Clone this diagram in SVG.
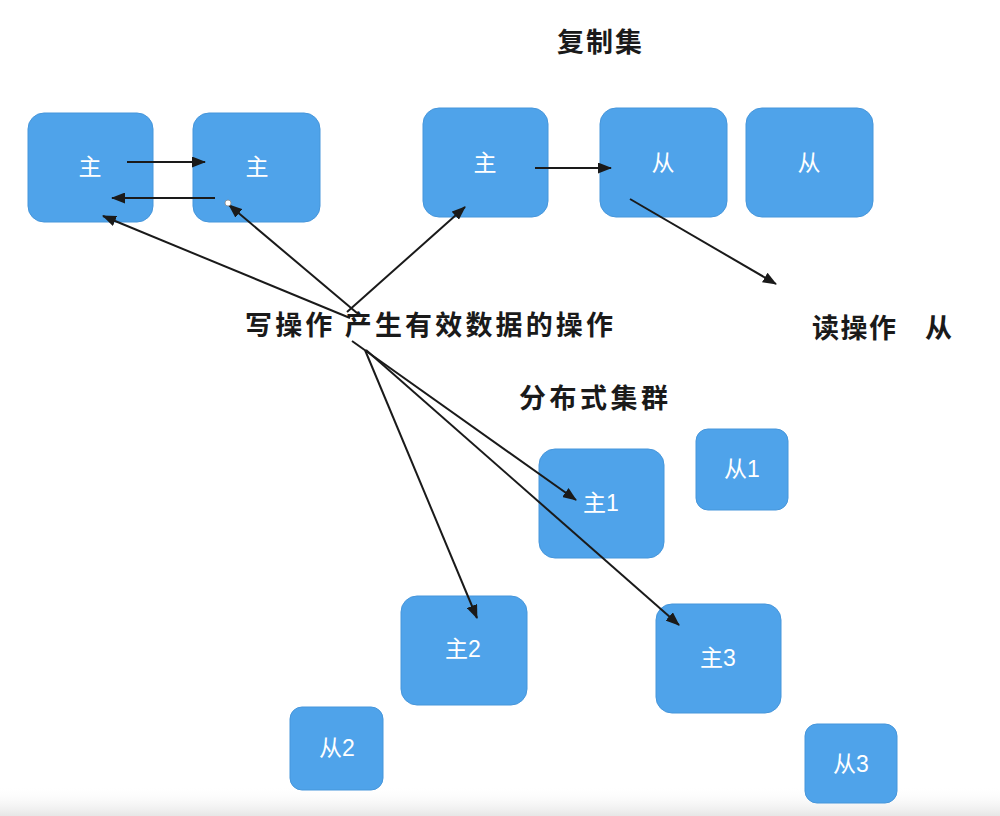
<svg xmlns="http://www.w3.org/2000/svg" width="1000" height="816" viewBox="0 0 1000 816">
  <defs>
    <style>
      .box { fill: #4fa3ea; stroke: #4696db; stroke-width: 1; }
      .lbl { fill: #ffffff; font-family: "Liberation Sans", "Noto Sans CJK SC", sans-serif; font-size: 23px; text-anchor: middle; dominant-baseline: central; }
      .title { fill: #1a1a1a; font-family: "Noto Sans CJK SC", sans-serif; font-size: 27px; font-weight: bold; }
      .edge { stroke: #1a1a1a; stroke-width: 2; fill: none; marker-end: url(#arrow); }
    </style>
    <marker id="arrow" markerUnits="userSpaceOnUse" markerWidth="14" markerHeight="11" refX="13" refY="5.5" orient="auto">
      <path d="M0,0 L14,5.5 L0,11 z" fill="#1a1a1a"/>
    </marker>
    <linearGradient id="floor" x1="0" y1="0" x2="0" y2="1">
      <stop offset="0" stop-color="#ffffff" stop-opacity="0"/>
      <stop offset="1" stop-color="#e6e6e6" stop-opacity="1"/>
    </linearGradient>
  </defs>

  <rect x="0" y="0" width="1000" height="816" fill="#ffffff"/>
  <rect x="0" y="786" width="1000" height="30" fill="url(#floor)"/>

  <!-- headings -->
  <g id="headings">
    <text class="title" x="557" y="52" letter-spacing="2">复制集</text>
    <text class="title" x="245" y="335" textLength="368" lengthAdjust="spacing">写操作 产生有效数据的操作</text>
    <text class="title" x="812" y="338" letter-spacing="1.5">读操作 <tspan x="925" letter-spacing="0">从</tspan></text>
    <text class="title" x="519" y="408" letter-spacing="3.5">分布式集群</text>
  </g>

  <!-- master-master pair -->
  <g id="m-a"><rect class="box" x="28" y="113" width="125" height="109" rx="16"/><text class="lbl" x="90" y="167">主</text></g>
  <g id="m-b"><rect class="box" x="193" y="113" width="127" height="109" rx="16"/><text class="lbl" x="257" y="167">主</text></g>

  <!-- replica set -->
  <g id="rs-primary"><rect class="box" x="423" y="108" width="125" height="109" rx="16"/><text class="lbl" x="485" y="163">主</text></g>
  <g id="rs-secondary1"><rect class="box" x="600" y="108" width="127" height="109" rx="16"/><text class="lbl" x="663" y="163">从</text></g>
  <g id="rs-secondary2"><rect class="box" x="746" y="108" width="127" height="109" rx="16"/><text class="lbl" x="809" y="163">从</text></g>

  <!-- sharded cluster -->
  <g id="shard1-primary"><rect class="box" x="539" y="449" width="125" height="109" rx="16"/><text class="lbl" x="601" y="503">主1</text></g>
  <g id="shard1-secondary"><rect class="box" x="696" y="429" width="92" height="81" rx="12"/><text class="lbl" x="742" y="469">从1</text></g>
  <g id="shard2-primary"><rect class="box" x="401" y="596" width="126" height="109" rx="16"/><text class="lbl" x="463" y="649">主2</text></g>
  <g id="shard3-primary"><rect class="box" x="656" y="604" width="125" height="109" rx="16"/><text class="lbl" x="718" y="658">主3</text></g>
  <g id="shard2-secondary"><rect class="box" x="290" y="707" width="93" height="83" rx="12"/><text class="lbl" x="337" y="748">从2</text></g>
  <g id="shard3-secondary"><rect class="box" x="805" y="724" width="92" height="79" rx="12"/><text class="lbl" x="851" y="764">从3</text></g>

  <!-- connectors -->
  <g id="connectors">
    <line class="edge" x1="127" y1="162" x2="205" y2="162"/>
    <line class="edge" x1="215" y1="198" x2="112" y2="198"/>
    <line class="edge" x1="350" y1="318" x2="103" y2="216"/>
    <line class="edge" x1="357" y1="313" x2="229" y2="205"/>
    <line class="edge" x1="347" y1="312" x2="465" y2="207"/>
    <line class="edge" x1="535" y1="168" x2="611" y2="168"/>
    <line class="edge" x1="630" y1="199" x2="776" y2="284"/>
    <line class="edge" x1="352" y1="341" x2="576" y2="500"/>
    <line class="edge" x1="365" y1="350" x2="477" y2="618"/>
    <line class="edge" x1="366" y1="350" x2="679" y2="625"/>
    <circle cx="228" cy="203" r="3" fill="#ffffff" stroke="#888888" stroke-width="0.8"/>
  </g>
</svg>
